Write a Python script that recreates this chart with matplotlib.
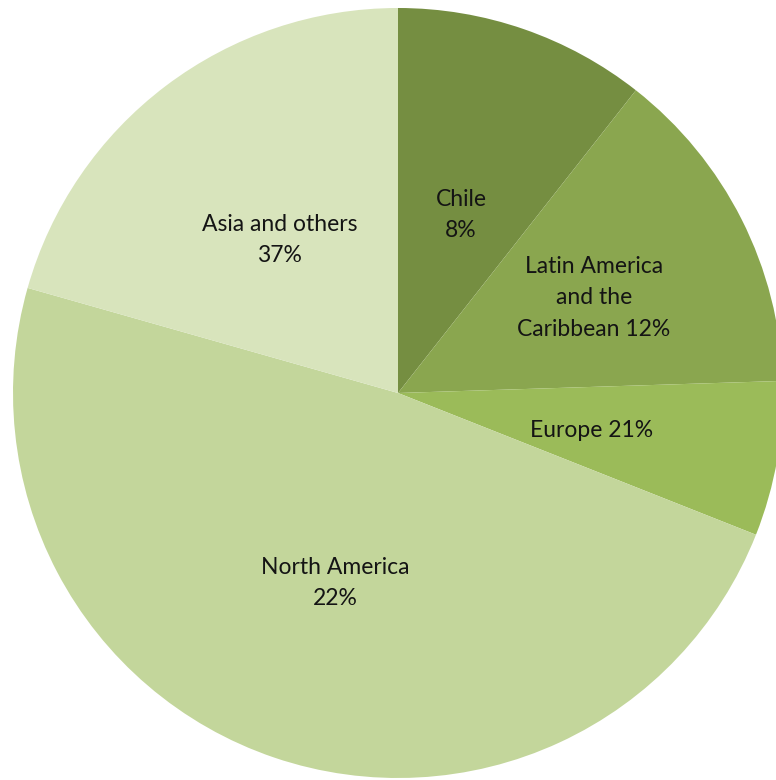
import numpy as np
import matplotlib.pyplot as plt

plt.rcParams['font.family'] = ['Lato', 'DejaVu Sans']

# Slice shares (degrees / 3.6), clockwise from 12 o'clock
regions = ['Chile', 'Latin America and the Caribbean', 'Europe', 'North America', 'Asia and others']
shares = [10.6, 13.9, 6.5, 48.4, 20.6]
# Label texts as printed on the chart
label_texts = ['Chile\n8%', 'Latin America\nand the\nCaribbean 12%', 'Europe 21%',
               'North America\n22%', 'Asia and others\n37%']
colors = ['#758e41', '#8aa64f', '#9bbb59', '#c3d69b', '#d8e4bc']
label_radius = [0.50, 0.57, 0.51, 0.51, 0.51]

W, H = 776, 780
cx, cy, R = 398, 393, 385  # pixel centre and radius

fig = plt.figure(figsize=(W / 100, H / 100), dpi=100)
ax = fig.add_axes([0, 0, 1, 1])

wedges, _ = ax.pie(shares, colors=colors, startangle=90, counterclock=False,
                   radius=1.0, wedgeprops=dict(linewidth=0))

for w, txt, r in zip(wedges, label_texts, label_radius):
    ang = np.deg2rad((w.theta1 + w.theta2) / 2)
    ax.text(r * np.cos(ang), r * np.sin(ang) - 0.01, txt, ha='center', va='center',
            fontsize=16.5, color='#141414', linespacing=1.6)

ax.set_xlim(-cx / R, (W - cx) / R)
ax.set_ylim(-(H - cy) / R, cy / R)
ax.set_aspect('auto')
ax.axis('off')

fig.savefig('out.png', dpi=100)
